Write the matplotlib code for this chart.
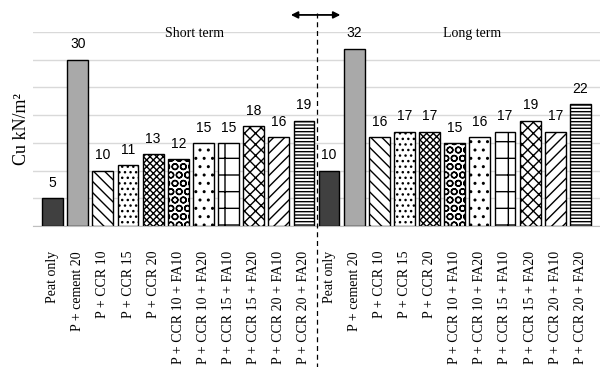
import matplotlib.pyplot as plt
import numpy as np

labels = ['Peat only', 'P + cement 20', 'P + CCR 10', 'P + CCR 15', 'P + CCR 20',
          'P + CCR 10 + FA10', 'P + CCR 10 + FA20', 'P + CCR 15 + FA10',
          'P + CCR 15 + FA20', 'P + CCR 20 + FA10', 'P + CCR 20 + FA20']
short_term = [5, 30, 10, 11, 13, 12, 15, 15, 18, 16, 19]
long_term = [10, 32, 16, 17, 17, 15, 16, 17, 19, 17, 22]

colors = ['#404040', '#a9a9a9'] + ['white'] * 9
hatches = [None, None, '\\\\\\', '...', 'xxxxx', 'OO', '..', '+', 'xxx', '///', '-----']

vals = short_term + long_term
x = np.arange(len(vals))

plt.rcParams['hatch.linewidth'] = 1.0
fig = plt.figure(figsize=(6, 3.67), dpi=100)
ax = fig.add_axes([0.055, 0.3842, 0.945, 0.5286])

for i, v in enumerate(vals):
    k = i % 11
    ax.bar(x[i], v, width=0.83, color=colors[k], hatch=hatches[k],
           edgecolor='black', linewidth=1.0, zorder=3)
    ax.annotate(str(v), (x[i], v), xytext=(0, 6), textcoords='offset points',
                ha='center', va='bottom', fontsize=10, family='Liberation Sans')

ax.set_xlim(-0.78, 21.78)
ax.set_ylim(0, 35)
ax.set_yticks(range(0, 40, 5))
ax.grid(axis='y', color='#d9d9d9', linewidth=1.0, zorder=0)
ax.tick_params(left=False, labelleft=False)
for s in ['top', 'right', 'left']:
    ax.spines[s].set_visible(False)
ax.spines['bottom'].set_color('#bfbfbf')

ax.set_xticks(x, labels + labels, rotation=90, fontsize=10, family='Liberation Serif')
ax.tick_params(axis='x', length=0, pad=18)

ax.set_ylabel('Cu kN/m²', fontsize=13, family='Liberation Serif', labelpad=2)

ax.axvline(10.5, ymin=-0.73, ymax=1.1, color='black', linestyle=(0, (4, 3)),
           linewidth=0.9, clip_on=False, zorder=4)
ax.annotate('', xy=(11.56, 1.088), xytext=(9.37, 1.088),
            xycoords=('data', 'axes fraction'),
            arrowprops=dict(arrowstyle='<|-|>', color='black', lw=1.3,
                            mutation_scale=10))

ax.text(5.63, 0.99, 'Short term', transform=ax.get_xaxis_transform(),
        ha='center', va='center', fontsize=10, family='Liberation Serif')
ax.text(16.69, 0.99, 'Long term', transform=ax.get_xaxis_transform(),
        ha='center', va='center', fontsize=10, family='Liberation Serif')

fig.savefig('out.png', dpi=100)
